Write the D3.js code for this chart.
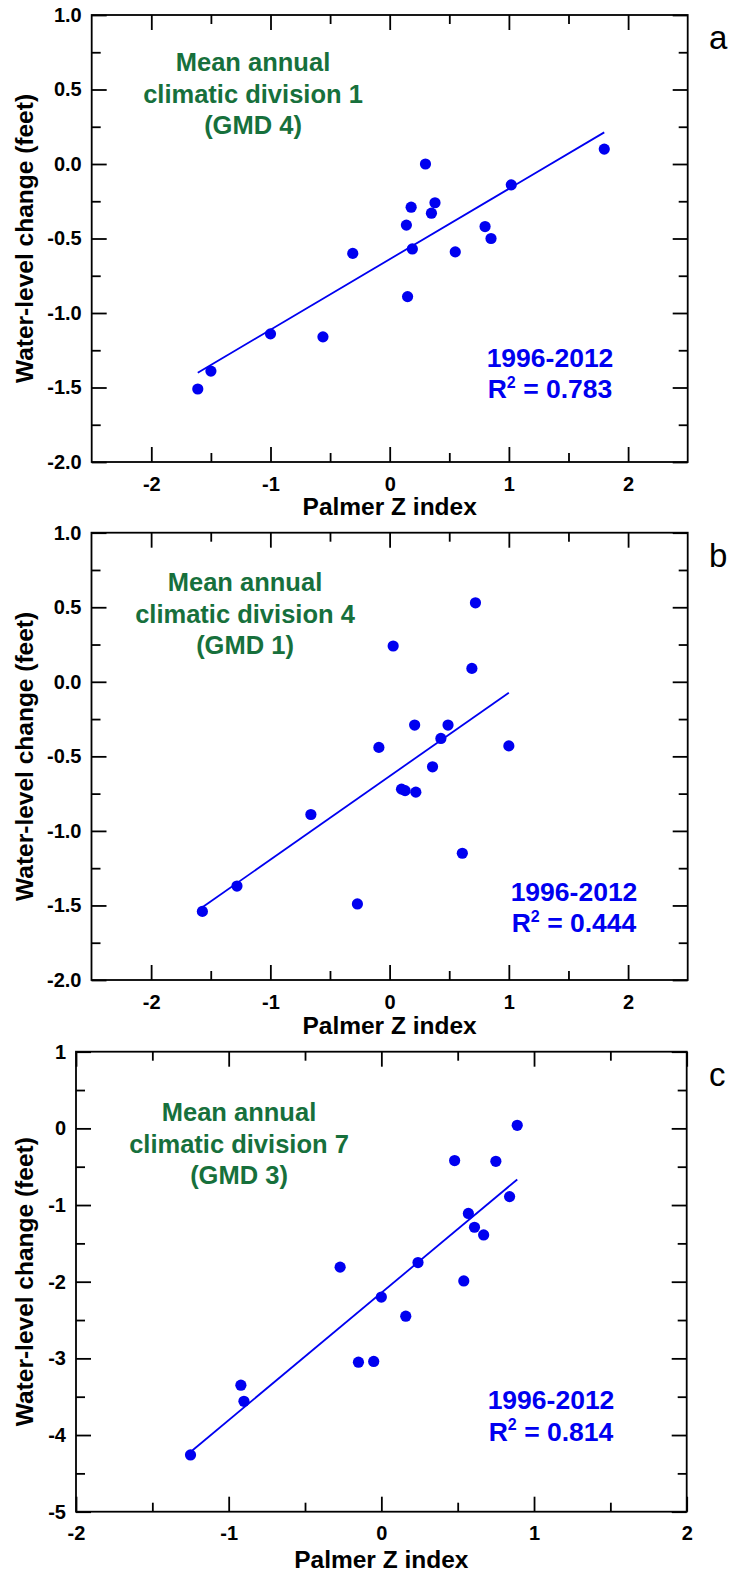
<!DOCTYPE html>
<html><head><meta charset="utf-8">
<script src="https://cdn.jsdelivr.net/npm/d3@7"></script>
<style>
body{margin:0;background:#fff}
svg{display:block}
text{font-family:"Liberation Sans",Arial,Helvetica,sans-serif}
</style>
</head><body>
<svg id="chart" width="732" height="1574"></svg>
<script>
// ---------- DATA ----------
// Panel a: climatic division 1 (GMD 4)
const zA = [-1.61,-1.50,-1.00,-0.56,-0.31,0.15,0.14,0.18,0.19,0.30,0.35,0.38,0.55,0.80,0.85,1.02,1.80];
const wA = [-1.51,-1.39,-1.14,-1.16,-0.60,-0.89,-0.41,-0.29,-0.57,0.00,-0.33,-0.26,-0.59,-0.42,-0.50,-0.14,0.10];
const fitA = [0.473,-0.639];            // slope, intercept
// Panel b: climatic division 4 (GMD 1)
const zB = [-1.57,-1.28,-0.66,-0.27,-0.09,0.03,0.10,0.13,0.21,0.22,0.36,0.43,0.49,0.61,0.69,0.72,1.00];
const wB = [-1.54,-1.37,-0.89,-1.49,-0.44,0.24,-0.72,-0.73,-0.29,-0.74,-0.57,-0.38,-0.29,-1.15,0.09,0.53,-0.43];
const fitB = [0.560,-0.633];
// Panel c: climatic division 7 (GMD 3)
const zC = [-1.25,-0.92,-0.90,-0.27,-0.15,-0.05,0.00,0.16,0.24,0.48,0.54,0.57,0.61,0.67,0.75,0.84,0.89];
const wC = [-4.26,-3.35,-3.56,-1.81,-3.05,-3.04,-2.20,-2.45,-1.75,-0.42,-1.99,-1.11,-1.29,-1.39,-0.43,-0.89,0.04];
const fitC = [1.661,-2.145];

const xDomainAB = [-2.5,2.5], yDomainAB = [-2,1];
const xDomainC = [-2,2],     yDomainC = [-5,1];
const xMajorAB = [-2,-1,0,1,2], xMinorAB = [-1.5,-0.5,0.5,1.5];
const yMajorAB = [1.0,0.5,0.0,-0.5,-1.0,-1.5,-2.0], yMinorAB = [0.75,0.25,-0.25,-0.75,-1.25,-1.75];
const xMajorC = [-2,-1,0,1,2], xMinorC = [-1.5,-0.5,0.5,1.5];
const yMajorC = [1,0,-1,-2,-3,-4,-5], yMinorC = [0.5,-0.5,-1.5,-2.5,-3.5,-4.5];

const r2Labels = ["0.783","0.444","0.814"];
const divisionLabels = ["climatic division 1","climatic division 4","climatic division 7"];
const gmdLabels = ["(GMD 4)","(GMD 1)","(GMD 3)"];
const panelLetters = ["a","b","c"];
const periodLabel = "1996-2012";
const xTitle = "Palmer Z index";
const yTitle = "Water-level change (feet)";

// ---------- LAYOUT ----------
const GREEN = "#17703c", BLUE = "#0000f0";
const panels = [
  {z:zA,w:wA,fit:fitA,xd:xDomainAB,yd:yDomainAB,xM:xMajorAB,xm:xMinorAB,yM:yMajorAB,ym:yMinorAB,yFmt:d3.format(".1f"),
   L:91.7,R:687.7,T:15,B:462,xTitleY:515,green:[253,71],blue:[550,366.7]},
  {z:zB,w:wB,fit:fitB,xd:xDomainAB,yd:yDomainAB,xM:xMajorAB,xm:xMinorAB,yM:yMajorAB,ym:yMinorAB,yFmt:d3.format(".1f"),
   L:91.5,R:687.7,T:532.7,B:980,xTitleY:1034,green:[245,591],blue:[574,900.7]},
  {z:zC,w:wC,fit:fitC,xd:xDomainC,yd:yDomainC,xM:xMajorC,xm:xMinorC,yM:yMajorC,ym:yMinorC,yFmt:d3.format("d"),
   L:76,R:686.7,T:1051.7,B:1511.7,xTitleY:1568,green:[239,1121],blue:[551,1409]}
];

const svg = d3.select("#chart");
const fmtDash = s => s.replace("\u2212","-");

panels.forEach((p,i)=>{
  const x = d3.scaleLinear().domain(p.xd).range([p.L,p.R]);
  const y = d3.scaleLinear().domain(p.yd).range([p.B,p.T]);
  const g = svg.append("g");
  const MAJ = 15, MIN = 9, FS = 20;

  function styleAxis(sel){
    sel.select(".domain").remove();
    sel.selectAll(".tick line").attr("stroke","#000").attr("stroke-width",1.8);
    sel.selectAll(".tick text").attr("fill","#000").attr("font-size",FS).attr("font-weight","bold")
       .style("font-family","'Liberation Sans',Arial,sans-serif");
  }
  // bottom
  g.append("g").attr("transform",`translate(0,${p.B})`)
    .call(d3.axisBottom(x).tickValues(p.xM).tickSize(-MAJ).tickPadding(14.3).tickFormat(d=>fmtDash(d3.format("d")(d))))
    .call(styleAxis);
  g.append("g").attr("transform",`translate(0,${p.B})`)
    .call(d3.axisBottom(x).tickValues(p.xm).tickSize(-MIN).tickFormat("")).call(styleAxis);
  // top
  g.append("g").attr("transform",`translate(0,${p.T})`)
    .call(d3.axisTop(x).tickValues(p.xM).tickSize(-MAJ).tickFormat("")).call(styleAxis);
  g.append("g").attr("transform",`translate(0,${p.T})`)
    .call(d3.axisTop(x).tickValues(p.xm).tickSize(-MIN).tickFormat("")).call(styleAxis);
  // left
  g.append("g").attr("transform",`translate(${p.L},0)`)
    .call(d3.axisLeft(y).tickValues(p.yM).tickSize(-MAJ).tickPadding(10).tickFormat(d=>fmtDash(p.yFmt(d))))
    .call(styleAxis);
  g.append("g").attr("transform",`translate(${p.L},0)`)
    .call(d3.axisLeft(y).tickValues(p.ym).tickSize(-MIN).tickFormat("")).call(styleAxis);
  // right
  g.append("g").attr("transform",`translate(${p.R},0)`)
    .call(d3.axisRight(y).tickValues(p.yM).tickSize(-MAJ).tickFormat("")).call(styleAxis);
  g.append("g").attr("transform",`translate(${p.R},0)`)
    .call(d3.axisRight(y).tickValues(p.ym).tickSize(-MIN).tickFormat("")).call(styleAxis);

  // frame
  g.append("rect").attr("x",p.L).attr("y",p.T).attr("width",p.R-p.L).attr("height",p.B-p.T)
    .attr("fill","none").attr("stroke","#000").attr("stroke-width",1.8);

  // regression line over data range
  const ext = d3.extent(p.z);
  const fitPts = ext.map(v=>[v, p.fit[0]*v + p.fit[1]]);
  g.append("path").datum(fitPts)
    .attr("d", d3.line().x(d=>x(d[0])).y(d=>y(d[1])))
    .attr("stroke",BLUE).attr("stroke-width",1.8).attr("fill","none");

  // points
  g.selectAll("circle.pt").data(p.z.map((v,k)=>[v,p.w[k]])).join("circle")
    .attr("class","pt").attr("cx",d=>x(d[0])).attr("cy",d=>y(d[1])).attr("r",5.6).attr("fill",BLUE);

  // axis titles
  g.append("text").attr("x",(p.L+p.R)/2).attr("y",p.xTitleY).attr("text-anchor","middle")
    .attr("font-size",24.5).attr("font-weight","bold").attr("fill","#000").text(xTitle);
  g.append("text").attr("transform",`translate(33,${(p.T+p.B)/2}) rotate(-90)`).attr("text-anchor","middle")
    .attr("font-size",24.5).attr("font-weight","bold").attr("fill","#000").text(yTitle);

  // green annotation
  const gt = g.append("text").attr("text-anchor","middle").attr("font-size",25.5).attr("font-weight","bold").attr("fill",GREEN);
  ["Mean annual",divisionLabels[i],gmdLabels[i]].forEach((s,k)=>{
    gt.append("tspan").attr("x",p.green[0]).attr("y",p.green[1]+k*31.5).text(s);
  });

  // blue annotation
  const bt = g.append("text").attr("text-anchor","middle").attr("font-size",26.5).attr("font-weight","bold").attr("fill",BLUE);
  bt.append("tspan").attr("x",p.blue[0]).attr("y",p.blue[1]).text(periodLabel);
  const r2 = g.append("text").attr("text-anchor","middle").attr("font-size",26.5).attr("font-weight","bold").attr("fill",BLUE)
    .attr("x",p.blue[0]).attr("y",p.blue[1]+31.5);
  r2.append("tspan").text("R");
  r2.append("tspan").attr("font-size",16).attr("dy",-10.5).text("2");
  r2.append("tspan").attr("dy",10.5).text(" = " + r2Labels[i]);

  // panel letter
  g.append("text").attr("x",709).attr("y",p.T+34).attr("font-size",33).attr("fill","#000").text(panelLetters[i]);
});
</script>
</body></html>
